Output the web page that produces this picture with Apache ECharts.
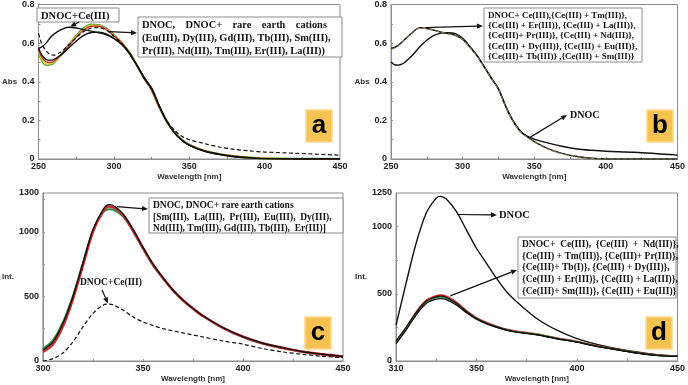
<!DOCTYPE html>
<html>
<head>
<meta charset="utf-8">
<script src="https://cdn.jsdelivr.net/npm/echarts@6/dist/echarts.min.js"></script>
<style>
html, body { margin: 0; background: #fff; }
#main { width: 688px; height: 385px; }
</style>
</head>
<body>
<div id="main"></div>
<script>
// panel a : absorption, single rare earth cations
var waveA = [250, 252, 255, 258, 260, 265, 270, 275, 280, 285, 290, 295, 300, 305, 310, 315, 320, 325, 330, 335, 340, 345, 350, 360, 370, 380, 390, 400, 420, 450];
var absA_green = [0.565, 0.515, 0.488, 0.49, 0.498, 0.54, 0.59, 0.638, 0.677, 0.696, 0.694, 0.676, 0.642, 0.605, 0.555, 0.49, 0.42, 0.36, 0.27, 0.196, 0.14, 0.1, 0.074, 0.043, 0.026, 0.014, 0.007, 0.003, 0.001, 0];
var absA_yellow = [0.56, 0.52, 0.492, 0.493, 0.5, 0.54, 0.588, 0.635, 0.673, 0.692, 0.691, 0.674, 0.64, 0.604, 0.554, 0.489, 0.419, 0.358, 0.268, 0.195, 0.139, 0.1, 0.074, 0.043, 0.026, 0.014, 0.007, 0.003, 0.001, 0];
var absA_red = [0.57, 0.53, 0.503, 0.5, 0.505, 0.54, 0.585, 0.63, 0.668, 0.687, 0.687, 0.671, 0.638, 0.603, 0.553, 0.488, 0.418, 0.357, 0.268, 0.194, 0.138, 0.099, 0.073, 0.043, 0.025, 0.014, 0.007, 0.003, 0.001, 0];
var absA_black = [0.575, 0.54, 0.515, 0.512, 0.515, 0.54, 0.575, 0.61, 0.64, 0.655, 0.657, 0.648, 0.625, 0.595, 0.55, 0.488, 0.422, 0.366, 0.276, 0.196, 0.138, 0.098, 0.072, 0.042, 0.025, 0.013, 0.006, 0.002, 0, 0];
var absA_dnoc = [0.65, 0.6, 0.56, 0.54, 0.538, 0.555, 0.59, 0.628, 0.66, 0.678, 0.68, 0.668, 0.635, 0.6, 0.552, 0.487, 0.418, 0.36, 0.275, 0.2, 0.15, 0.118, 0.1, 0.08, 0.062, 0.05, 0.042, 0.036, 0.03, 0.02];
var absA_ce = [0.573, 0.58, 0.6, 0.63, 0.645, 0.67, 0.682, 0.678, 0.67, 0.662, 0.654, 0.643, 0.624, 0.594, 0.55, 0.488, 0.422, 0.368, 0.278, 0.196, 0.138, 0.097, 0.071, 0.04, 0.023, 0.012, 0.006, 0.002, 0, 0];

// panel b : absorption, Ce(III) + second cation
var waveB = waveA;
var absB_ce = [0.572, 0.576, 0.588, 0.607, 0.622, 0.655, 0.68, 0.676, 0.667, 0.657, 0.65, 0.64, 0.62, 0.58, 0.535, 0.478, 0.418, 0.362, 0.272, 0.2, 0.145, 0.115, 0.09, 0.052, 0.028, 0.013, 0.004, 0, 0, 0];
var absB_ceMix = [0.568, 0.573, 0.585, 0.605, 0.62, 0.653, 0.678, 0.675, 0.666, 0.656, 0.648, 0.638, 0.618, 0.578, 0.533, 0.476, 0.416, 0.36, 0.27, 0.198, 0.143, 0.113, 0.088, 0.05, 0.026, 0.012, 0.003, 0, 0, 0];
var absB_dnoc = [0.503, 0.49, 0.486, 0.492, 0.503, 0.537, 0.58, 0.615, 0.64, 0.652, 0.654, 0.649, 0.625, 0.583, 0.536, 0.478, 0.42, 0.365, 0.275, 0.2, 0.148, 0.118, 0.103, 0.082, 0.065, 0.052, 0.045, 0.04, 0.035, 0.02];

// panel c : emission, single cations
var waveC = [300, 305, 310, 315, 320, 325, 330, 333, 335, 340, 345, 350, 355, 360, 365, 370, 375, 380, 390, 400, 410, 420, 430, 440, 450];
var intC_black = [83, 148, 290, 497, 756, 1015, 1170, 1210, 1205, 1140, 1020, 880, 750, 645, 550, 472, 408, 350, 258, 188, 137, 102, 72, 52, 36];
var intC_red = [70, 130, 270, 480, 740, 1000, 1158, 1195, 1192, 1130, 1012, 875, 746, 642, 548, 470, 406, 348, 257, 187, 136, 101, 71, 51, 35];
var intC_green = [95, 160, 300, 505, 760, 1010, 1150, 1175, 1172, 1120, 1005, 870, 743, 640, 546, 469, 405, 347, 256, 186, 135, 100, 71, 51, 35];
var intC_ce = [0, 18, 62, 148, 264, 368, 432, 440, 435, 394, 342, 303, 275, 251, 233, 218, 202, 186, 155, 130, 96, 70, 52, 36, 26];

// panel d : emission, Ce(III) + second cation
var waveD = [310, 315, 320, 325, 330, 332, 335, 340, 345, 350, 355, 360, 365, 370, 380, 390, 400, 410, 420, 430, 440, 450];
var intD_dnoc = [266, 578, 876, 1100, 1212, 1225, 1205, 1113, 976, 839, 727, 615, 515, 441, 316, 229, 167, 124, 92, 67, 47, 37];
var intD_red = [140, 245, 362, 450, 485, 490, 482, 438, 375, 322, 285, 258, 235, 220, 200, 170, 145, 112, 86, 61, 43, 37];
var intD_green = [135, 238, 352, 438, 472, 476, 468, 426, 366, 316, 280, 254, 232, 217, 198, 168, 143, 110, 85, 60, 42, 36];
var intD_black = [150, 250, 360, 445, 478, 482, 474, 430, 368, 317, 281, 254, 232, 216, 196, 166, 141, 109, 84, 59, 41, 35];
var intD_black2 = [128, 230, 342, 428, 460, 464, 457, 416, 358, 310, 276, 250, 228, 214, 195, 165, 140, 108, 83, 59, 41, 35];

var GREY = '#8c8c8c';
var INK = '#111';
var SANS = '"Liberation Sans", Arial, sans-serif';
var SERIF = '"Liberation Serif", "Times New Roman", serif';

function line(gi, xs, ys, color, width, dashed) {
    return {
        type: 'line',
        xAxisIndex: gi,
        yAxisIndex: gi,
        data: xs.map(function (x, i) { return [x, ys[i]]; }),
        smooth: 0.3,
        showSymbol: false,
        silent: true,
        lineStyle: { color: color, width: width, type: dashed ? [4, 2.5] : 'solid' }
    };
}

var tickFont = { fontSize: 9, fontWeight: 'bold', fontFamily: SANS, color: '#222' };
var nameFont = { fontSize: 8, fontWeight: 'bold', fontFamily: SANS, color: '#333' };
function plain(v) { return String(v); }

function xAx(gi, min, max, labels, ticks) {
    return {
        type: 'value', gridIndex: gi, min: min, max: max,
        name: 'Wavelength [nm]', nameLocation: 'middle', nameGap: 14,
        nameTextStyle: nameFont,
        axisLine: { lineStyle: { color: GREY } },
        axisTick: { inside: true, length: 2, customValues: ticks, lineStyle: { color: GREY } },
        axisLabel: Object.assign({ customValues: labels, margin: 3, formatter: plain }, tickFont),
        splitLine: { show: false }
    };
}

function yAx(gi, max, labels, ticks, name, gap) {
    return {
        type: 'value', gridIndex: gi, min: 0, max: max,
        name: name, nameLocation: 'middle', nameRotate: 0, nameGap: gap,
        nameTextStyle: Object.assign({ padding: [8, 0, 0, 0] }, nameFont),
        axisLine: { show: true, lineStyle: { color: GREY } },
        axisTick: { inside: true, length: 2, customValues: ticks, lineStyle: { color: GREY } },
        axisLabel: Object.assign({ customValues: labels, margin: 4, formatter: plain }, tickFont),
        splitLine: { show: false }
    };
}

var chart = echarts.init(document.getElementById('main'));
var gridBase = { show: true, borderColor: GREY, borderWidth: 1, backgroundColor: '#fff' };

chart.setOption({
    backgroundColor: '#fff',
    animation: false,
    grid: [
        Object.assign({ left: 33, top: 4, width: 307, height: 155 }, gridBase),
        Object.assign({ left: 391, top: 4, width: 289, height: 155 }, gridBase),
        Object.assign({ left: 35, top: 193, width: 308, height: 168 }, gridBase),
        Object.assign({ left: 396, top: 193, width: 283, height: 168 }, gridBase)
    ],
    xAxis: [
        xAx(0, 250, 450, [250, 300, 350, 400, 450], [275, 300, 325, 350, 375, 400, 425]),
        xAx(1, 250, 450, [250, 300, 350, 400, 450], [275, 300, 325, 350, 375, 400, 425]),
        xAx(2, 300, 450, [300, 350, 400, 450], [325, 350, 375, 400, 425]),
        xAx(3, 310, 450, [310, 350, 400, 450], [330, 350, 375, 400, 425])
    ],
    yAxis: [
        yAx(0, 0.8, [0, 0.2, 0.4, 0.6, 0.8], [0.1, 0.2, 0.3, 0.4, 0.5, 0.6, 0.7], 'Abs', 20),
        yAx(1, 0.8, [0, 0.2, 0.4, 0.6, 0.8], [0.1, 0.2, 0.3, 0.4, 0.5, 0.6, 0.7], 'Abs', 20),
        yAx(2, 1300, [0, 500, 1000, 1300], [250, 500, 750, 1000, 1250], 'Int.', 22),
        yAx(3, 1250, [0, 500, 1000, 1250], [250, 500, 750, 1000], 'Int.', 22)
    ],
    series: [
        line(0, waveA, absA_green, '#3e9a3e', 2.2),
        line(0, waveA, absA_yellow, '#e6dc3c', 1.6),
        line(0, waveA, absA_red, '#cf3434', 1.4),
        line(0, waveA, absA_black, INK, 1.4),
        line(0, waveA, absA_dnoc, INK, 1.2, true),
        line(0, waveA, absA_ce, INK, 1.4),

        line(1, waveB, absB_dnoc, INK, 1.4),
        line(1, waveB, absB_ce, INK, 1.4),
        line(1, waveB, absB_ceMix, '#8a7a55', 1.1, true),

        line(2, waveC, intC_green, '#2f8a3a', 2),
        line(2, waveC, intC_red, '#d02a2a', 2.6),
        line(2, waveC, intC_black, INK, 1.4),
        line(2, waveC, intC_ce, INK, 1.2, true),

        line(3, waveD, intD_dnoc, INK, 1.4),
        line(3, waveD, intD_red, '#d02a2a', 1.8),
        line(3, waveD, intD_green, '#2f8a3a', 1.6),
        line(3, waveD, intD_black, INK, 1.2),
        line(3, waveD, intD_black2, INK, 1.2)
    ]
});

// annotations: text boxes in pixels, arrow tips taken from the data scales
function px(gi, pt) {
    return chart.convertToPixel({ gridIndex: gi }, pt);
}

function arrow(from, to) {
    var ang = Math.atan2(to[1] - from[1], to[0] - from[0]);
    var L = 6, W = 2.6;
    var bx = to[0] - L * Math.cos(ang), by = to[1] - L * Math.sin(ang);
    var nx = -Math.sin(ang) * W, ny = Math.cos(ang) * W;
    return [
        { type: 'line', z: 100, shape: { x1: from[0], y1: from[1], x2: bx, y2: by }, style: { stroke: INK, lineWidth: 1.2 } },
        { type: 'polygon', z: 100, shape: { points: [[to[0], to[1]], [bx + nx, by + ny], [bx - nx, by - ny]] }, style: { fill: INK } }
    ];
}

function box(x, y, w, h, text, size, lh) {
    return [
        { type: 'rect', z: 90, shape: { x: x, y: y, width: w, height: h }, style: { fill: '#fff', stroke: GREY, lineWidth: 1 } },
        label(x + 4, y + 2, text, size, lh)
    ];
}

function label(x, y, text, size, lh) {
    return {
        type: 'text', z: 101, x: x, y: y,
        style: { text: text, font: 'bold ' + size + 'px ' + SERIF, fill: INK, lineHeight: lh, align: 'left', verticalAlign: 'top' }
    };
}

function tag(x, y, letter) {
    return [
        { type: 'rect', z: 90, shape: { x: x, y: y, width: 26, height: 32 }, style: { fill: '#f6c352', stroke: '#fbd98c', lineWidth: 1.5 } },
        { type: 'text', z: 101, x: x + 13, y: y + 16, style: { text: letter, font: 'bold 26px ' + SANS, fill: '#000', align: 'center', verticalAlign: 'middle' } }
    ];
}

var g = [];
// a
g = g.concat(box(37, 8, 82, 14, 'DNOC+Ce(III)', 10.5, 12));
g = g.concat(arrow([79, 22], px(0, [271, 0.685])));
g = g.concat(box(138, 17, 204, 40,
    'DNOC,    DNOC+    rare    earth    cations\n(Eu(III), Dy(III), Gd(III), Tb(III), Sm(III),\nPr(III), Nd(III), Tm(III), Er(III), La(III))', 10.4, 13));
g = g.concat(arrow(px(0, [297, 0.66]), [137, 33]));
g = g.concat(tag(306, 110, 'a'));
// b
g = g.concat(box(484, 8, 158, 54,
    'DNOC+ Ce(III),{Ce(III) + Tm(III)},\n{Ce(III) + Er(III)}, {Ce(III) + La(III)},\n{Ce(III)+ Pr(III)}, {Ce(III) + Nd(III)},\n{Ce(III) + Dy(III)}, {Ce(III) + Eu(III)},\n{Ce(III)+ Tb(III)} ,{Ce(III) + Sm(III)}', 9, 10.4));
g = g.concat(arrow(px(1, [274, 0.68]), [483, 26]));
g.push(label(570, 109, 'DNOC', 10, 12));
g = g.concat(arrow(px(1, [347, 0.112]), [567, 115]));
g = g.concat(tag(647, 110, 'b'));
// c
g = g.concat(box(149, 198, 194, 35,
    'DNOC, DNOC+ rare earth cations\n[Sm(III),  La(III),  Pr(III),  Eu(III),  Dy(III),\nNd(III), Tm(III), Gd(III), Tb(III),  Er(III)]', 9.5, 11.5));
g = g.concat(arrow(px(2, [337, 1195]), [148, 209]));
g.push(label(80, 277, 'DNOC+Ce(III)', 9.5, 12));
g = g.concat(arrow([102, 290], px(2, [332.5, 445])));
g = g.concat(tag(305, 317, 'c'));
// d
g.push(label(499, 209, 'DNOC', 10.5, 12));
g = g.concat(arrow(px(3, [341, 1090]), [497, 215]));
g = g.concat(box(518, 237, 158, 61,
    'DNOC+  Ce(III),  {Ce(III)  +  Nd(III)},\n{Ce(III) + Tm(III)}, {Ce(III)+ Pr(III)},\n{Ce(III)+ Tb(I)}, {Ce(III) + Dy(III)},\n{Ce(III) + Er(III)}, {Ce(III) + La(III)},\n{Ce(III)+ Sm(III)}, {Ce(III) + Eu(III)}', 9.5, 11.6));
g = g.concat(arrow(px(3, [337, 485]), [517, 270]));
g = g.concat(tag(646, 317, 'd'));

chart.setOption({ graphic: { elements: g } });
</script>
</body>
</html>
